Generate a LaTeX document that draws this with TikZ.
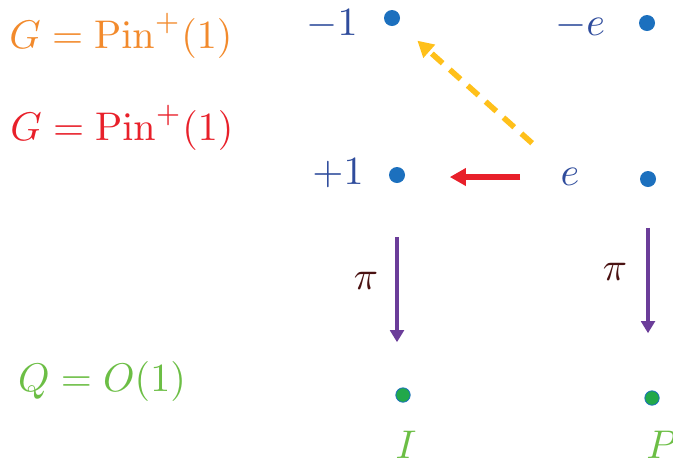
\documentclass[tikz,border=0pt]{standalone}
\usetikzlibrary{arrows.meta}
\definecolor{gorange}{HTML}{F28A2C}
\definecolor{gred}{HTML}{E8202A}
\definecolor{lblue}{HTML}{2F4C9C}
\definecolor{dblue}{HTML}{1C70BE}
\definecolor{ayellow}{HTML}{FFC01A}
\definecolor{apurple}{HTML}{6B3D99}
\definecolor{pibrown}{HTML}{4A1212}
\definecolor{qgreen}{HTML}{6CBE45}
\definecolor{dgreen}{HTML}{22A84A}
\begin{document}
\begin{tikzpicture}[x=0.25pt, y=-0.25pt,
    lbl/.style={text=lblue, inner sep=0pt},
    bdot/.style={circle, fill=dblue, inner sep=0pt, minimum size=4pt},
    gdot/.style={circle, fill=dgreen, draw=dblue, line width=0.2pt, inner sep=0pt, minimum size=3.6pt},
    piarrow/.style={draw=apurple, line width=1pt, -{Triangle[length=3pt, width=3.4pt]}}]
\useasboundingbox (0,0) rectangle (673,465);

\node[text=gorange] at (121,36) (gtop) {$G=\mathrm{Pin}^+(1)$};
\node[text=gred] at (122,128) (gbot) {$G=\mathrm{Pin}^+(1)$};
\node[text=qgreen] at (102,381) (q) {$Q=O(1)$};

\node[lbl] at (332,24) (m1) {$-1$};
\node[bdot] at (392,18) (m1dot) {};
\node[lbl] at (580,25) (me) {$-e$};
\node[bdot] at (647,23) (medot) {};
\node[lbl] at (338,173) (p1) {$+1$};
\node[bdot] at (397,175) (p1dot) {};
\node[lbl] at (570,177) (e) {$e$};
\node[bdot] at (648,179) (edot) {};

\node[gdot] at (403,395) (idot) {};
\node[gdot] at (652,398) (pdot) {};
\node[text=qgreen] at (406,445) (i) {$I$};
\node[text=qgreen, inner sep=0pt] at (662,445) (p) {$P$};

\draw[gred, line width=1.5pt, -{Triangle[length=4pt, width=4.2pt]},
      shorten <=12.5pt, shorten >=13.2pt] (e.center) -- (e.center -| p1dot);
\draw[ayellow, line width=1.4pt, dash pattern=on 3.6pt off 2.4pt,
      -{Triangle[length=4pt, width=4.2pt]},
      shorten <=12.7pt, shorten >=8.5pt] (e.center) -- (m1dot.center);

\draw[piarrow, shorten <=15.5pt, shorten >=13.2pt] (p1dot.center) -- (p1dot |- idot);
\draw[piarrow, shorten <=12.2pt, shorten >=16.2pt] (edot.center) -- (edot |- pdot);
\node[text=pibrown] at (366,281) (pil) {$\pi$};
\node[text=pibrown] at (615,272) (pir) {$\pi$};
\end{tikzpicture}
\end{document}
